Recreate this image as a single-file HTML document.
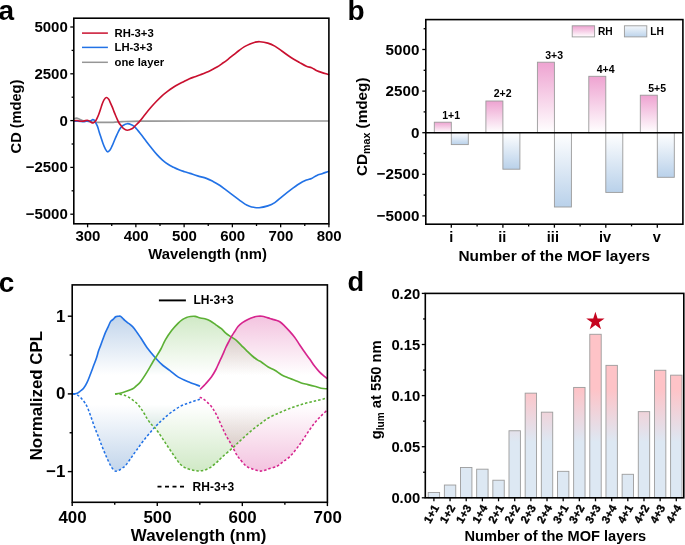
<!DOCTYPE html><html><head><meta charset="utf-8"><style>html,body{margin:0;padding:0;background:#fff;overflow:hidden;}svg{display:block;}text{font-family:"Liberation Sans",sans-serif;font-weight:bold;fill:#000;}</style></head><body>
<svg width="685" height="545" viewBox="0 0 685 545">
<defs><linearGradient id="gRH" x1="0" y1="0" x2="0" y2="1"><stop offset="0" stop-color="#eea3d1"/><stop offset="1" stop-color="#ffffff"/></linearGradient><linearGradient id="gLH" x1="0" y1="0" x2="0" y2="1"><stop offset="0" stop-color="#ffffff"/><stop offset="1" stop-color="#b9d1ea"/></linearGradient><linearGradient id="gLHleg" x1="0" y1="0" x2="0" y2="1"><stop offset="0" stop-color="#f4f8fc"/><stop offset="1" stop-color="#bcd3eb"/></linearGradient><linearGradient id="fBlue" gradientUnits="userSpaceOnUse" x1="0" y1="316" x2="0" y2="471.5"><stop offset="0" stop-color="#c2d5eb"/><stop offset="0.38" stop-color="#ffffff"/><stop offset="0.57" stop-color="#ffffff"/><stop offset="1" stop-color="#c2d5eb"/></linearGradient><linearGradient id="fGreen" gradientUnits="userSpaceOnUse" x1="0" y1="316" x2="0" y2="471.5"><stop offset="0" stop-color="#d0e9c6"/><stop offset="0.38" stop-color="#ffffff"/><stop offset="0.57" stop-color="#ffffff"/><stop offset="1" stop-color="#d0e9c6"/></linearGradient><linearGradient id="fMag" gradientUnits="userSpaceOnUse" x1="0" y1="316" x2="0" y2="471.5"><stop offset="0" stop-color="#f3c3df"/><stop offset="0.38" stop-color="#ffffff"/><stop offset="0.57" stop-color="#ffffff"/><stop offset="1" stop-color="#f3c3df"/></linearGradient><linearGradient id="gD" gradientUnits="userSpaceOnUse" x1="0" y1="389" x2="0" y2="442"><stop offset="0" stop-color="#fec3c7"/><stop offset="1" stop-color="#dde8f3"/></linearGradient></defs>
<text x="-1.5" y="19.5" font-size="28" text-anchor="start">a</text>
<line x1="87.6" y1="223.8" x2="87.6" y2="227.3" stroke="#000" stroke-width="1.3"/>
<line x1="111.73" y1="223.8" x2="111.73" y2="226" stroke="#000" stroke-width="1.3"/>
<line x1="135.86" y1="223.8" x2="135.86" y2="227.3" stroke="#000" stroke-width="1.3"/>
<line x1="159.99" y1="223.8" x2="159.99" y2="226" stroke="#000" stroke-width="1.3"/>
<line x1="184.12" y1="223.8" x2="184.12" y2="227.3" stroke="#000" stroke-width="1.3"/>
<line x1="208.25" y1="223.8" x2="208.25" y2="226" stroke="#000" stroke-width="1.3"/>
<line x1="232.38" y1="223.8" x2="232.38" y2="227.3" stroke="#000" stroke-width="1.3"/>
<line x1="256.51" y1="223.8" x2="256.51" y2="226" stroke="#000" stroke-width="1.3"/>
<line x1="280.64" y1="223.8" x2="280.64" y2="227.3" stroke="#000" stroke-width="1.3"/>
<line x1="304.77" y1="223.8" x2="304.77" y2="226" stroke="#000" stroke-width="1.3"/>
<line x1="328.9" y1="223.8" x2="328.9" y2="227.3" stroke="#000" stroke-width="1.3"/>
<text x="87.9" y="240.8" font-size="15" text-anchor="middle">300</text>
<text x="136.16" y="240.8" font-size="15" text-anchor="middle">400</text>
<text x="184.42" y="240.8" font-size="15" text-anchor="middle">500</text>
<text x="232.68" y="240.8" font-size="15" text-anchor="middle">600</text>
<text x="280.94" y="240.8" font-size="15" text-anchor="middle">700</text>
<text x="329.2" y="240.8" font-size="15" text-anchor="middle">800</text>
<line x1="70.3" y1="214.2" x2="73.8" y2="214.2" stroke="#000" stroke-width="1.3"/>
<line x1="71.6" y1="190.8" x2="73.8" y2="190.8" stroke="#000" stroke-width="1.3"/>
<line x1="70.3" y1="167.4" x2="73.8" y2="167.4" stroke="#000" stroke-width="1.3"/>
<line x1="71.6" y1="144" x2="73.8" y2="144" stroke="#000" stroke-width="1.3"/>
<line x1="70.3" y1="120.6" x2="73.8" y2="120.6" stroke="#000" stroke-width="1.3"/>
<line x1="71.6" y1="97.2" x2="73.8" y2="97.2" stroke="#000" stroke-width="1.3"/>
<line x1="70.3" y1="73.8" x2="73.8" y2="73.8" stroke="#000" stroke-width="1.3"/>
<line x1="71.6" y1="50.4" x2="73.8" y2="50.4" stroke="#000" stroke-width="1.3"/>
<line x1="70.3" y1="27" x2="73.8" y2="27" stroke="#000" stroke-width="1.3"/>
<text x="67.8" y="219.1" font-size="15" text-anchor="end">−5000</text>
<text x="67.8" y="172.3" font-size="15" text-anchor="end">−2500</text>
<text x="67.8" y="125.5" font-size="15" text-anchor="end">0</text>
<text x="67.8" y="78.7" font-size="15" text-anchor="end">2500</text>
<text x="67.8" y="31.9" font-size="15" text-anchor="end">5000</text>
<text x="207.6" y="258.9" font-size="14.8" text-anchor="middle">Wavelength (nm)</text>
<text x="0" y="0" font-size="14.6" text-anchor="middle" transform="translate(21.2,116.5) rotate(-90)">CD (mdeg)</text>
<path d="M73.9,118.8 C74.37,118.7 75.75,118.12 76.7,118.2 C77.65,118.28 78.43,118.87 79.6,119.3 C80.77,119.73 82.23,120.45 83.7,120.8 C85.17,121.15 86.95,121.2 88.4,121.4 C89.85,121.6 91.05,121.85 92.4,122 C93.75,122.15 95.03,122.23 96.5,122.3 C97.97,122.37 99.45,122.38 101.2,122.4 C102.95,122.42 105.2,122.42 107,122.4 C108.8,122.38 109.5,122.43 112,122.3 C114.5,122.17 117,121.8 122,121.6 C127,121.4 129,121.2 142,121.1 C155,121 168.8,121.02 200,121 C231.2,120.98 307.67,121 329.2,121" fill="none" stroke="#969696" stroke-width="1.7"/>
<path d="M73.9,121.1 C74.5,121.12 76.27,121.15 77.5,121.2 C78.73,121.25 80.27,121.32 81.3,121.4 C82.33,121.48 82.82,121.75 83.7,121.7 C84.58,121.65 85.63,121.15 86.6,121.1 C87.57,121.05 88.72,121.5 89.5,121.4 C90.28,121.3 90.77,120.8 91.3,120.5 C91.83,120.2 92.22,119.65 92.7,119.6 C93.18,119.55 93.75,119.77 94.2,120.2 C94.65,120.63 94.85,121.17 95.4,122.2 C95.95,123.23 96.87,124.77 97.5,126.4 C98.13,128.03 98.62,130.15 99.2,132 C99.78,133.85 100.35,135.53 101,137.5 C101.65,139.47 102.4,141.93 103.1,143.8 C103.8,145.67 104.45,147.37 105.2,148.7 C105.95,150.03 106.8,151.57 107.6,151.8 C108.4,152.03 109.25,151.08 110,150.1 C110.75,149.12 111.4,147.42 112.1,145.9 C112.8,144.38 113.5,142.63 114.2,141 C114.9,139.37 115.6,137.67 116.3,136.1 C117,134.53 117.7,132.93 118.4,131.6 C119.1,130.27 119.8,129.08 120.5,128.1 C121.2,127.12 121.48,126.43 122.6,125.7 C123.72,124.97 125.57,123.77 127.2,123.7 C128.83,123.63 131.1,124.73 132.4,125.3 C133.7,125.87 133.65,125.7 135,127.1 C136.35,128.5 138.67,131.4 140.5,133.7 C142.33,136 144.17,138.52 146,140.9 C147.83,143.28 149.67,145.72 151.5,148 C153.33,150.28 155.17,152.58 157,154.6 C158.83,156.62 160.67,158.48 162.5,160.1 C164.33,161.72 166.17,163.1 168,164.3 C169.83,165.5 171.67,166.38 173.5,167.3 C175.33,168.22 177.17,169.07 179,169.8 C180.83,170.53 182.67,171.1 184.5,171.7 C186.33,172.3 187.82,172.7 190,173.4 C192.18,174.1 194.87,175.07 197.6,175.9 C200.33,176.73 203.83,177.48 206.4,178.4 C208.97,179.32 210.8,180.27 213,181.4 C215.2,182.53 217.4,183.73 219.6,185.2 C221.8,186.67 224,188.55 226.2,190.2 C228.4,191.85 230.5,193.37 232.8,195.1 C235.1,196.83 237.97,199.1 240,200.6 C242.03,202.1 243.42,203.17 245,204.1 C246.58,205.03 248.03,205.67 249.5,206.2 C250.97,206.73 252.2,207.05 253.8,207.3 C255.4,207.55 256.77,207.93 259.1,207.7 C261.43,207.47 265.18,206.75 267.8,205.9 C270.42,205.05 272.47,204.12 274.8,202.6 C277.13,201.08 279.17,198.93 281.8,196.8 C284.43,194.67 287.68,191.98 290.6,189.8 C293.52,187.62 296.67,185.32 299.3,183.7 C301.93,182.08 304.35,180.98 306.4,180.1 C308.45,179.22 309.85,179.18 311.6,178.4 C313.35,177.62 315.15,176.18 316.9,175.4 C318.65,174.62 320.32,174.32 322.1,173.7 C323.88,173.08 326.42,172.12 327.6,171.7 C328.78,171.28 328.93,171.28 329.2,171.2" fill="none" stroke="#2272e6" stroke-width="1.65"/>
<path d="M73.9,120.8 C74.37,120.75 75.75,120.45 76.7,120.5 C77.65,120.55 78.43,121 79.6,121.1 C80.77,121.2 82.43,121.25 83.7,121.1 C84.97,120.95 86.23,120.2 87.2,120.2 C88.17,120.2 88.72,120.67 89.5,121.1 C90.28,121.53 91.22,122.53 91.9,122.8 C92.58,123.07 93.05,122.9 93.6,122.7 C94.15,122.5 94.65,122.28 95.2,121.6 C95.75,120.92 96.32,119.78 96.9,118.6 C97.48,117.42 98.1,116.05 98.7,114.5 C99.3,112.95 99.92,111.05 100.5,109.3 C101.08,107.55 101.62,105.57 102.2,104 C102.78,102.43 103.32,100.98 104,99.9 C104.68,98.82 105.52,97.6 106.3,97.5 C107.08,97.4 108.02,98.42 108.7,99.3 C109.38,100.18 109.82,101.53 110.4,102.8 C110.98,104.07 111.6,105.43 112.2,106.9 C112.8,108.37 113.42,110.13 114,111.6 C114.58,113.07 115.12,114.33 115.7,115.7 C116.28,117.07 116.92,118.53 117.5,119.8 C118.08,121.07 118.62,122.37 119.2,123.3 C119.78,124.23 120.32,124.57 121,125.4 C121.68,126.23 122.27,127.5 123.3,128.3 C124.33,129.1 125.68,130.17 127.2,130.2 C128.72,130.23 131.1,129.2 132.4,128.5 C133.7,127.8 133.83,127.15 135,126 C136.17,124.85 137.65,123.62 139.4,121.6 C141.15,119.58 143.57,116.28 145.5,113.9 C147.43,111.52 149.17,109.4 151,107.3 C152.83,105.2 154.67,103.22 156.5,101.3 C158.33,99.38 160.17,97.45 162,95.8 C163.83,94.15 165.67,92.78 167.5,91.4 C169.33,90.02 171.17,88.7 173,87.5 C174.83,86.3 176.67,85.2 178.5,84.2 C180.33,83.2 182.17,82.42 184,81.5 C185.83,80.58 187.67,79.5 189.5,78.7 C191.33,77.9 193.17,77.37 195,76.7 C196.83,76.03 198.67,75.4 200.5,74.7 C202.33,74 204.17,73.3 206,72.5 C207.83,71.7 209.67,70.82 211.5,69.9 C213.33,68.98 215.17,68.1 217,67 C218.83,65.9 220.67,64.58 222.5,63.3 C224.33,62.02 226.17,60.7 228,59.3 C229.83,57.9 231.67,56.37 233.5,54.9 C235.33,53.43 237.17,51.88 239,50.5 C240.83,49.12 242.67,47.7 244.5,46.6 C246.33,45.5 248.25,44.63 250,43.9 C251.75,43.17 253.35,42.57 255,42.2 C256.65,41.83 257.77,41.55 259.9,41.7 C262.03,41.85 265.32,42.37 267.8,43.1 C270.28,43.83 272.47,44.78 274.8,46.1 C277.13,47.42 279.17,49.15 281.8,51 C284.43,52.85 287.68,55.3 290.6,57.2 C293.52,59.1 296.67,60.88 299.3,62.4 C301.93,63.92 304.35,65.42 306.4,66.3 C308.45,67.18 309.85,66.95 311.6,67.7 C313.35,68.45 315.15,69.98 316.9,70.8 C318.65,71.62 320.32,72.02 322.1,72.6 C323.88,73.18 326.42,73.93 327.6,74.3 C328.78,74.67 328.93,74.72 329.2,74.8" fill="none" stroke="#c9102f" stroke-width="1.65"/>
<line x1="82" y1="33.1" x2="107.9" y2="33.1" stroke="#c9102f" stroke-width="1.5"/>
<text x="114.5" y="37" font-size="11.3" text-anchor="start">RH-3+3</text>
<line x1="82" y1="47.4" x2="107.9" y2="47.4" stroke="#2272e6" stroke-width="1.5"/>
<text x="114.5" y="51.3" font-size="11.3" text-anchor="start">LH-3+3</text>
<line x1="82" y1="62.3" x2="107.9" y2="62.3" stroke="#969696" stroke-width="1.5"/>
<text x="114.5" y="66.2" font-size="11.3" text-anchor="start">one layer</text>
<rect x="73.8" y="18.2" width="255.1" height="205.6" fill="none" stroke="#000" stroke-width="1.6"/>
<text x="347.5" y="19.8" font-size="28" text-anchor="start">b</text>
<rect x="434.3" y="122.2" width="17" height="10.5" fill="url(#gRH)" stroke="#9a9a9a" stroke-width="0.9"/>
<rect x="451.3" y="132.7" width="17" height="11.9" fill="url(#gLH)" stroke="#9a9a9a" stroke-width="0.9"/>
<text x="451.1" y="118.6" font-size="10.5" text-anchor="middle">1+1</text>
<rect x="485.9" y="101" width="17" height="31.7" fill="url(#gRH)" stroke="#9a9a9a" stroke-width="0.9"/>
<rect x="502.9" y="132.7" width="17" height="36.5" fill="url(#gLH)" stroke="#9a9a9a" stroke-width="0.9"/>
<text x="502.7" y="97.4" font-size="10.5" text-anchor="middle">2+2</text>
<rect x="537.4" y="62.2" width="17" height="70.5" fill="url(#gRH)" stroke="#9a9a9a" stroke-width="0.9"/>
<rect x="554.4" y="132.7" width="17" height="74.3" fill="url(#gLH)" stroke="#9a9a9a" stroke-width="0.9"/>
<text x="554.2" y="58.6" font-size="10.5" text-anchor="middle">3+3</text>
<rect x="588.8" y="76.3" width="17" height="56.4" fill="url(#gRH)" stroke="#9a9a9a" stroke-width="0.9"/>
<rect x="605.8" y="132.7" width="17" height="59.7" fill="url(#gLH)" stroke="#9a9a9a" stroke-width="0.9"/>
<text x="605.6" y="72.7" font-size="10.5" text-anchor="middle">4+4</text>
<rect x="640.3" y="95.2" width="17" height="37.5" fill="url(#gRH)" stroke="#9a9a9a" stroke-width="0.9"/>
<rect x="657.3" y="132.7" width="17" height="44.6" fill="url(#gLH)" stroke="#9a9a9a" stroke-width="0.9"/>
<text x="657.1" y="91.6" font-size="10.5" text-anchor="middle">5+5</text>
<line x1="425.8" y1="132.7" x2="682.9" y2="132.7" stroke="#000" stroke-width="1.6"/>
<line x1="422.3" y1="215.9" x2="425.8" y2="215.9" stroke="#000" stroke-width="1.3"/>
<line x1="423.6" y1="195.1" x2="425.8" y2="195.1" stroke="#000" stroke-width="1.3"/>
<line x1="422.3" y1="174.3" x2="425.8" y2="174.3" stroke="#000" stroke-width="1.3"/>
<line x1="423.6" y1="153.5" x2="425.8" y2="153.5" stroke="#000" stroke-width="1.3"/>
<line x1="422.3" y1="132.7" x2="425.8" y2="132.7" stroke="#000" stroke-width="1.3"/>
<line x1="423.6" y1="111.9" x2="425.8" y2="111.9" stroke="#000" stroke-width="1.3"/>
<line x1="422.3" y1="91.1" x2="425.8" y2="91.1" stroke="#000" stroke-width="1.3"/>
<line x1="423.6" y1="70.3" x2="425.8" y2="70.3" stroke="#000" stroke-width="1.3"/>
<line x1="422.3" y1="49.5" x2="425.8" y2="49.5" stroke="#000" stroke-width="1.3"/>
<line x1="423.6" y1="28.7" x2="425.8" y2="28.7" stroke="#000" stroke-width="1.3"/>
<text x="419.4" y="221" font-size="15.2" text-anchor="end">−5000</text>
<text x="419.4" y="179.4" font-size="15.2" text-anchor="end">−2500</text>
<text x="419.4" y="137.8" font-size="15.2" text-anchor="end">0</text>
<text x="419.4" y="96.2" font-size="15.2" text-anchor="end">2500</text>
<text x="419.4" y="54.6" font-size="15.2" text-anchor="end">5000</text>
<line x1="451.3" y1="224.2" x2="451.3" y2="227.7" stroke="#000" stroke-width="1.3"/>
<text x="451.3" y="241.6" font-size="14.5" text-anchor="middle">i</text>
<line x1="502.9" y1="224.2" x2="502.9" y2="227.7" stroke="#000" stroke-width="1.3"/>
<text x="502.3" y="241.6" font-size="14.5" text-anchor="middle">ii</text>
<line x1="554.4" y1="224.2" x2="554.4" y2="227.7" stroke="#000" stroke-width="1.3"/>
<text x="552.9" y="241.6" font-size="14.5" text-anchor="middle">iii</text>
<line x1="605.8" y1="224.2" x2="605.8" y2="227.7" stroke="#000" stroke-width="1.3"/>
<text x="605" y="241.6" font-size="14.5" text-anchor="middle">iv</text>
<line x1="657.3" y1="224.2" x2="657.3" y2="227.7" stroke="#000" stroke-width="1.3"/>
<text x="656.8" y="241.6" font-size="14.5" text-anchor="middle">v</text>
<line x1="477.1" y1="224.2" x2="477.1" y2="226.4" stroke="#000" stroke-width="1.3"/>
<line x1="528.65" y1="224.2" x2="528.65" y2="226.4" stroke="#000" stroke-width="1.3"/>
<line x1="580.1" y1="224.2" x2="580.1" y2="226.4" stroke="#000" stroke-width="1.3"/>
<line x1="631.55" y1="224.2" x2="631.55" y2="226.4" stroke="#000" stroke-width="1.3"/>
<text x="554.3" y="260.7" font-size="15.4" text-anchor="middle">Number of the MOF layers</text>
<text font-size="15.3" transform="translate(366.6,176.0) rotate(-90)">CD<tspan font-size="10.6" dy="3.6">max</tspan><tspan dy="-3.6"> (mdeg)</tspan></text>
<rect x="572.2" y="25.8" width="22.4" height="11.1" fill="url(#gRH)" stroke="#9a9a9a" stroke-width="0.9"/>
<text x="598" y="34.9" font-size="10.2" text-anchor="start">RH</text>
<rect x="624.4" y="25.8" width="22.4" height="11.1" fill="url(#gLHleg)" stroke="#9a9a9a" stroke-width="0.9"/>
<text x="650.2" y="34.9" font-size="10.2" text-anchor="start">LH</text>
<rect x="425.8" y="19.6" width="257.1" height="204.6" fill="none" stroke="#000" stroke-width="1.6"/>
<text x="-1.2" y="291.8" font-size="28" text-anchor="start">c</text>
<g style="isolation:isolate">
<path d="M72.8,393.9 C73.17,393.88 74.18,393.95 75,393.8 C75.82,393.65 76.87,393.42 77.7,393 C78.53,392.58 79.02,392.08 80,391.3 C80.98,390.52 82.42,389.78 83.6,388.3 C84.78,386.82 85.97,384.75 87.1,382.4 C88.23,380.05 89.37,376.85 90.4,374.2 C91.43,371.55 92.32,369.12 93.3,366.5 C94.28,363.88 95.43,361.07 96.3,358.5 C97.17,355.93 97.77,353.3 98.5,351.1 C99.23,348.9 99.85,347.62 100.7,345.3 C101.55,342.98 102.77,339.45 103.6,337.2 C104.43,334.95 104.98,333.43 105.7,331.8 C106.42,330.17 107.22,328.87 107.9,327.4 C108.58,325.93 109.25,324.1 109.8,323 C110.35,321.9 110.6,321.43 111.2,320.8 C111.8,320.17 112.67,319.88 113.4,319.2 C114.13,318.52 114.87,317.18 115.6,316.7 C116.33,316.22 117,316.38 117.8,316.3 C118.6,316.22 119.65,315.93 120.4,316.2 C121.15,316.47 121.57,317.22 122.3,317.9 C123.03,318.58 123.88,319.48 124.8,320.3 C125.72,321.12 126.93,322.13 127.8,322.8 C128.67,323.47 128.93,323.37 130,324.3 C131.07,325.23 132.45,326.2 134.2,328.4 C135.95,330.6 138.35,334.28 140.5,337.5 C142.65,340.72 144.48,344.17 147.1,347.7 C149.72,351.23 153.55,355.73 156.2,358.7 C158.85,361.67 160.7,363.52 163,365.5 C165.3,367.48 167.45,368.67 170,370.6 C172.55,372.53 175.13,375.2 178.3,377.1 C181.47,379 185.38,380.48 189,382 C192.62,383.52 198.17,385.5 200,386.2 L199.9,399.2 C198.25,399.75 193.25,401.32 190,402.5 C186.75,403.68 183.57,404.63 180.4,406.3 C177.23,407.97 173.92,410.32 171,412.5 C168.08,414.68 165.15,417.4 162.9,419.4 C160.65,421.4 159.32,422.67 157.5,424.5 C155.68,426.33 154.25,427.82 152,430.4 C149.75,432.98 146.57,436.72 144,440 C141.43,443.28 138.77,447.1 136.6,450.1 C134.43,453.1 132.82,455.45 131,458 C129.18,460.55 127.2,463.68 125.7,465.4 C124.2,467.12 123.1,467.5 122,468.3 C120.9,469.1 120.12,469.72 119.1,470.2 C118.08,470.68 116.83,471.27 115.9,471.2 C114.97,471.13 114.4,470.75 113.5,469.8 C112.6,468.85 111.67,467.63 110.5,465.5 C109.33,463.37 107.83,460 106.5,457 C105.17,454 103.83,450.83 102.5,447.5 C101.17,444.17 99.83,440.42 98.5,437 C97.17,433.58 95.83,430.58 94.5,427 C93.17,423.42 91.78,419 90.5,415.5 C89.22,412 87.92,408.37 86.8,406 C85.68,403.63 84.88,402.75 83.8,401.3 C82.72,399.85 81.47,398.4 80.3,397.3 C79.13,396.2 78.05,395.27 76.8,394.7 C75.55,394.13 73.47,394.03 72.8,393.9 Z" fill="url(#fBlue)" style="mix-blend-mode:multiply"/>
<path d="M115,393.9 C115.83,393.78 118.33,393.57 120,393.2 C121.67,392.83 122.87,392.43 125,391.7 C127.13,390.97 130.88,389.8 132.8,388.8 C134.72,387.8 135.2,386.88 136.5,385.7 C137.8,384.52 138.88,383.92 140.6,381.7 C142.32,379.48 144.72,375.77 146.8,372.4 C148.88,369.03 151.53,364.1 153.1,361.5 C154.67,358.9 154.9,358.88 156.2,356.8 C157.5,354.72 159.35,351.87 160.9,349 C162.45,346.13 163.68,342.72 165.5,339.6 C167.32,336.48 169.72,333.02 171.8,330.3 C173.88,327.58 176.18,325.12 178,323.3 C179.82,321.48 181.28,320.38 182.7,319.4 C184.12,318.42 185.2,317.88 186.5,317.4 C187.8,316.92 189.05,316.67 190.5,316.5 C191.95,316.33 193.72,316.18 195.2,316.4 C196.68,316.62 197.78,317.4 199.4,317.8 C201.02,318.2 203.07,318.27 204.9,318.8 C206.73,319.33 208.57,319.98 210.4,321 C212.23,322.02 214.07,323.62 215.9,324.9 C217.73,326.18 219.75,327.33 221.4,328.7 C223.05,330.07 224.32,331.82 225.8,333.1 C227.28,334.38 228.63,335.27 230.3,336.4 C231.97,337.53 233.97,338.42 235.8,339.9 C237.63,341.38 239.47,343.48 241.3,345.3 C243.13,347.12 244.97,349.02 246.8,350.8 C248.63,352.58 250.47,354.45 252.3,356 C254.13,357.55 256.25,359.07 257.8,360.1 C259.35,361.13 259.87,361.05 261.6,362.2 C263.33,363.35 266,365.65 268.2,367 C270.4,368.35 272.6,369.02 274.8,370.3 C277,371.58 279.2,373.47 281.4,374.7 C283.6,375.93 285.8,376.78 288,377.7 C290.2,378.62 292.38,379.32 294.6,380.2 C296.82,381.08 299.08,382.27 301.3,383 C303.52,383.73 305.7,384.05 307.9,384.6 C310.1,385.15 312.3,385.7 314.5,386.3 C316.7,386.9 319.02,387.78 321.1,388.2 C323.18,388.62 326.02,388.7 327,388.8 L327,398.1 C325.03,398.58 319.2,400.02 315.2,401 C311.2,401.98 306.9,402.88 303,404 C299.1,405.12 295.63,406.28 291.8,407.7 C287.97,409.12 283.88,410.78 280,412.5 C276.12,414.22 271.83,416.08 268.5,418 C265.17,419.92 262.93,421.82 260,424 C257.07,426.18 254.07,428.43 250.9,431.1 C247.73,433.77 244.02,437.23 241,440 C237.98,442.77 236,444.8 232.8,447.7 C229.6,450.6 224.6,454.85 221.8,457.4 C219,459.95 217.95,461.3 216,463 C214.05,464.7 211.93,466.43 210.1,467.6 C208.27,468.77 206.67,469.45 205,470 C203.33,470.55 201.6,470.8 200.1,470.9 C198.6,471 197.45,470.78 196,470.6 C194.55,470.42 193.15,470.23 191.4,469.8 C189.65,469.37 187.33,468.92 185.5,468 C183.67,467.08 181.98,465.88 180.4,464.3 C178.82,462.72 177.45,460.5 176,458.5 C174.55,456.5 173.15,454.42 171.7,452.3 C170.25,450.18 168.77,448 167.3,445.8 C165.83,443.6 164.37,441.32 162.9,439.1 C161.43,436.88 159.95,434.5 158.5,432.5 C157.05,430.5 155.45,428.52 154.2,427.1 C152.95,425.68 152.1,425.28 151,424 C149.9,422.72 148.68,421.07 147.6,419.4 C146.52,417.73 145.6,415.82 144.5,414 C143.4,412.18 142.25,410.25 141,408.5 C139.75,406.75 138.45,404.97 137,403.5 C135.55,402.03 133.8,400.82 132.3,399.7 C130.8,398.58 129.47,397.6 128,396.8 C126.53,396 125,395.33 123.5,394.9 C122,394.47 120.42,394.37 119,394.2 C117.58,394.03 115.67,393.95 115,393.9 Z" fill="url(#fGreen)" style="mix-blend-mode:multiply"/>
<path d="M200,389.5 C200.92,388.58 203.6,386.07 205.5,384 C207.4,381.93 209.67,379.52 211.4,377.1 C213.13,374.68 214.6,371.97 215.9,369.5 C217.2,367.03 218.1,364.68 219.2,362.3 C220.3,359.92 221.4,357.67 222.5,355.2 C223.6,352.73 224.68,349.9 225.8,347.5 C226.92,345.1 228.27,342.62 229.2,340.8 C230.13,338.98 230.48,338.15 231.4,336.6 C232.32,335.05 233.6,333.18 234.7,331.5 C235.8,329.82 236.72,327.97 238,326.5 C239.28,325.03 240.75,323.88 242.4,322.7 C244.05,321.52 246.07,320.32 247.9,319.4 C249.73,318.48 251.72,317.72 253.4,317.2 C255.08,316.68 256.57,316.45 258,316.3 C259.43,316.15 260.67,316.15 262,316.3 C263.33,316.45 264.68,316.83 266,317.2 C267.32,317.57 268.43,318.05 269.9,318.5 C271.37,318.95 273.15,319.37 274.8,319.9 C276.45,320.43 278.15,320.67 279.8,321.7 C281.45,322.73 283.05,324.48 284.7,326.1 C286.35,327.72 288.05,329.55 289.7,331.4 C291.35,333.25 292.95,334.98 294.6,337.2 C296.25,339.42 297.93,342.22 299.6,344.7 C301.27,347.18 302.95,349.77 304.6,352.1 C306.25,354.43 307.85,356.37 309.5,358.7 C311.15,361.03 312.85,363.9 314.5,366.1 C316.15,368.3 317.75,370.18 319.4,371.9 C321.05,373.62 323.13,375.3 324.4,376.4 C325.67,377.5 326.57,378.15 327,378.5 L327,410.3 C325.92,411.33 322.63,414.3 320.5,416.5 C318.37,418.7 316.28,420.9 314.2,423.5 C312.12,426.1 310.07,429.1 308,432.1 C305.93,435.1 303.88,438.5 301.8,441.5 C299.72,444.5 297.58,447.5 295.5,450.1 C293.42,452.7 291.38,455.15 289.3,457.1 C287.22,459.05 285.08,460.25 283,461.8 C280.92,463.35 279.13,465.23 276.8,466.4 C274.47,467.57 270.97,468.17 269,468.8 C267.03,469.43 266.3,469.82 265,470.2 C263.7,470.58 262.45,471.03 261.2,471.1 C259.95,471.17 258.8,470.9 257.5,470.6 C256.2,470.3 254.73,469.77 253.4,469.3 C252.07,468.83 250.8,468.4 249.5,467.8 C248.2,467.2 247.25,467.2 245.6,465.7 C243.95,464.2 241.12,460.67 239.6,458.8 C238.08,456.93 237.58,456.3 236.5,454.5 C235.42,452.7 234.22,450.12 233.1,448 C231.98,445.88 230.88,443.73 229.8,441.8 C228.72,439.87 227.67,438.37 226.6,436.4 C225.53,434.43 224.47,432.25 223.4,430 C222.33,427.75 221.27,425.27 220.2,422.9 C219.13,420.53 218.07,417.93 217,415.8 C215.93,413.67 214.87,411.8 213.8,410.1 C212.73,408.4 211.78,407 210.6,405.6 C209.42,404.2 207.98,402.87 206.7,401.7 C205.42,400.53 204.08,399.32 202.9,398.6 C201.72,397.88 200.15,397.6 199.6,397.4 Z" fill="url(#fMag)" style="mix-blend-mode:multiply"/>
</g>
<path d="M72.8,393.9 C73.17,393.88 74.18,393.95 75,393.8 C75.82,393.65 76.87,393.42 77.7,393 C78.53,392.58 79.02,392.08 80,391.3 C80.98,390.52 82.42,389.78 83.6,388.3 C84.78,386.82 85.97,384.75 87.1,382.4 C88.23,380.05 89.37,376.85 90.4,374.2 C91.43,371.55 92.32,369.12 93.3,366.5 C94.28,363.88 95.43,361.07 96.3,358.5 C97.17,355.93 97.77,353.3 98.5,351.1 C99.23,348.9 99.85,347.62 100.7,345.3 C101.55,342.98 102.77,339.45 103.6,337.2 C104.43,334.95 104.98,333.43 105.7,331.8 C106.42,330.17 107.22,328.87 107.9,327.4 C108.58,325.93 109.25,324.1 109.8,323 C110.35,321.9 110.6,321.43 111.2,320.8 C111.8,320.17 112.67,319.88 113.4,319.2 C114.13,318.52 114.87,317.18 115.6,316.7 C116.33,316.22 117,316.38 117.8,316.3 C118.6,316.22 119.65,315.93 120.4,316.2 C121.15,316.47 121.57,317.22 122.3,317.9 C123.03,318.58 123.88,319.48 124.8,320.3 C125.72,321.12 126.93,322.13 127.8,322.8 C128.67,323.47 128.93,323.37 130,324.3 C131.07,325.23 132.45,326.2 134.2,328.4 C135.95,330.6 138.35,334.28 140.5,337.5 C142.65,340.72 144.48,344.17 147.1,347.7 C149.72,351.23 153.55,355.73 156.2,358.7 C158.85,361.67 160.7,363.52 163,365.5 C165.3,367.48 167.45,368.67 170,370.6 C172.55,372.53 175.13,375.2 178.3,377.1 C181.47,379 185.38,380.48 189,382 C192.62,383.52 198.17,385.5 200,386.2" fill="none" stroke="#2272e6" stroke-width="1.65"/>
<path d="M115,393.9 C115.83,393.78 118.33,393.57 120,393.2 C121.67,392.83 122.87,392.43 125,391.7 C127.13,390.97 130.88,389.8 132.8,388.8 C134.72,387.8 135.2,386.88 136.5,385.7 C137.8,384.52 138.88,383.92 140.6,381.7 C142.32,379.48 144.72,375.77 146.8,372.4 C148.88,369.03 151.53,364.1 153.1,361.5 C154.67,358.9 154.9,358.88 156.2,356.8 C157.5,354.72 159.35,351.87 160.9,349 C162.45,346.13 163.68,342.72 165.5,339.6 C167.32,336.48 169.72,333.02 171.8,330.3 C173.88,327.58 176.18,325.12 178,323.3 C179.82,321.48 181.28,320.38 182.7,319.4 C184.12,318.42 185.2,317.88 186.5,317.4 C187.8,316.92 189.05,316.67 190.5,316.5 C191.95,316.33 193.72,316.18 195.2,316.4 C196.68,316.62 197.78,317.4 199.4,317.8 C201.02,318.2 203.07,318.27 204.9,318.8 C206.73,319.33 208.57,319.98 210.4,321 C212.23,322.02 214.07,323.62 215.9,324.9 C217.73,326.18 219.75,327.33 221.4,328.7 C223.05,330.07 224.32,331.82 225.8,333.1 C227.28,334.38 228.63,335.27 230.3,336.4 C231.97,337.53 233.97,338.42 235.8,339.9 C237.63,341.38 239.47,343.48 241.3,345.3 C243.13,347.12 244.97,349.02 246.8,350.8 C248.63,352.58 250.47,354.45 252.3,356 C254.13,357.55 256.25,359.07 257.8,360.1 C259.35,361.13 259.87,361.05 261.6,362.2 C263.33,363.35 266,365.65 268.2,367 C270.4,368.35 272.6,369.02 274.8,370.3 C277,371.58 279.2,373.47 281.4,374.7 C283.6,375.93 285.8,376.78 288,377.7 C290.2,378.62 292.38,379.32 294.6,380.2 C296.82,381.08 299.08,382.27 301.3,383 C303.52,383.73 305.7,384.05 307.9,384.6 C310.1,385.15 312.3,385.7 314.5,386.3 C316.7,386.9 319.02,387.78 321.1,388.2 C323.18,388.62 326.02,388.7 327,388.8" fill="none" stroke="#5cb035" stroke-width="1.65"/>
<path d="M200,389.5 C200.92,388.58 203.6,386.07 205.5,384 C207.4,381.93 209.67,379.52 211.4,377.1 C213.13,374.68 214.6,371.97 215.9,369.5 C217.2,367.03 218.1,364.68 219.2,362.3 C220.3,359.92 221.4,357.67 222.5,355.2 C223.6,352.73 224.68,349.9 225.8,347.5 C226.92,345.1 228.27,342.62 229.2,340.8 C230.13,338.98 230.48,338.15 231.4,336.6 C232.32,335.05 233.6,333.18 234.7,331.5 C235.8,329.82 236.72,327.97 238,326.5 C239.28,325.03 240.75,323.88 242.4,322.7 C244.05,321.52 246.07,320.32 247.9,319.4 C249.73,318.48 251.72,317.72 253.4,317.2 C255.08,316.68 256.57,316.45 258,316.3 C259.43,316.15 260.67,316.15 262,316.3 C263.33,316.45 264.68,316.83 266,317.2 C267.32,317.57 268.43,318.05 269.9,318.5 C271.37,318.95 273.15,319.37 274.8,319.9 C276.45,320.43 278.15,320.67 279.8,321.7 C281.45,322.73 283.05,324.48 284.7,326.1 C286.35,327.72 288.05,329.55 289.7,331.4 C291.35,333.25 292.95,334.98 294.6,337.2 C296.25,339.42 297.93,342.22 299.6,344.7 C301.27,347.18 302.95,349.77 304.6,352.1 C306.25,354.43 307.85,356.37 309.5,358.7 C311.15,361.03 312.85,363.9 314.5,366.1 C316.15,368.3 317.75,370.18 319.4,371.9 C321.05,373.62 323.13,375.3 324.4,376.4 C325.67,377.5 326.57,378.15 327,378.5" fill="none" stroke="#d6258e" stroke-width="1.65"/>
<path d="M72.8,393.9 C73.47,394.03 75.55,394.13 76.8,394.7 C78.05,395.27 79.13,396.2 80.3,397.3 C81.47,398.4 82.72,399.85 83.8,401.3 C84.88,402.75 85.68,403.63 86.8,406 C87.92,408.37 89.22,412 90.5,415.5 C91.78,419 93.17,423.42 94.5,427 C95.83,430.58 97.17,433.58 98.5,437 C99.83,440.42 101.17,444.17 102.5,447.5 C103.83,450.83 105.17,454 106.5,457 C107.83,460 109.33,463.37 110.5,465.5 C111.67,467.63 112.6,468.85 113.5,469.8 C114.4,470.75 114.97,471.13 115.9,471.2 C116.83,471.27 118.08,470.68 119.1,470.2 C120.12,469.72 120.9,469.1 122,468.3 C123.1,467.5 124.2,467.12 125.7,465.4 C127.2,463.68 129.18,460.55 131,458 C132.82,455.45 134.43,453.1 136.6,450.1 C138.77,447.1 141.43,443.28 144,440 C146.57,436.72 149.75,432.98 152,430.4 C154.25,427.82 155.68,426.33 157.5,424.5 C159.32,422.67 160.65,421.4 162.9,419.4 C165.15,417.4 168.08,414.68 171,412.5 C173.92,410.32 177.23,407.97 180.4,406.3 C183.57,404.63 186.75,403.68 190,402.5 C193.25,401.32 198.25,399.75 199.9,399.2" fill="none" stroke="#2272e6" stroke-width="1.55" stroke-dasharray="2.5,2.0"/>
<path d="M115,393.9 C115.67,393.95 117.58,394.03 119,394.2 C120.42,394.37 122,394.47 123.5,394.9 C125,395.33 126.53,396 128,396.8 C129.47,397.6 130.8,398.58 132.3,399.7 C133.8,400.82 135.55,402.03 137,403.5 C138.45,404.97 139.75,406.75 141,408.5 C142.25,410.25 143.4,412.18 144.5,414 C145.6,415.82 146.52,417.73 147.6,419.4 C148.68,421.07 149.9,422.72 151,424 C152.1,425.28 152.95,425.68 154.2,427.1 C155.45,428.52 157.05,430.5 158.5,432.5 C159.95,434.5 161.43,436.88 162.9,439.1 C164.37,441.32 165.83,443.6 167.3,445.8 C168.77,448 170.25,450.18 171.7,452.3 C173.15,454.42 174.55,456.5 176,458.5 C177.45,460.5 178.82,462.72 180.4,464.3 C181.98,465.88 183.67,467.08 185.5,468 C187.33,468.92 189.65,469.37 191.4,469.8 C193.15,470.23 194.55,470.42 196,470.6 C197.45,470.78 198.6,471 200.1,470.9 C201.6,470.8 203.33,470.55 205,470 C206.67,469.45 208.27,468.77 210.1,467.6 C211.93,466.43 214.05,464.7 216,463 C217.95,461.3 219,459.95 221.8,457.4 C224.6,454.85 229.6,450.6 232.8,447.7 C236,444.8 237.98,442.77 241,440 C244.02,437.23 247.73,433.77 250.9,431.1 C254.07,428.43 257.07,426.18 260,424 C262.93,421.82 265.17,419.92 268.5,418 C271.83,416.08 276.12,414.22 280,412.5 C283.88,410.78 287.97,409.12 291.8,407.7 C295.63,406.28 299.1,405.12 303,404 C306.9,402.88 311.2,401.98 315.2,401 C319.2,400.02 325.03,398.58 327,398.1" fill="none" stroke="#5cb035" stroke-width="1.55" stroke-dasharray="2.5,2.0"/>
<path d="M199.6,397.4 C200.15,397.6 201.72,397.88 202.9,398.6 C204.08,399.32 205.42,400.53 206.7,401.7 C207.98,402.87 209.42,404.2 210.6,405.6 C211.78,407 212.73,408.4 213.8,410.1 C214.87,411.8 215.93,413.67 217,415.8 C218.07,417.93 219.13,420.53 220.2,422.9 C221.27,425.27 222.33,427.75 223.4,430 C224.47,432.25 225.53,434.43 226.6,436.4 C227.67,438.37 228.72,439.87 229.8,441.8 C230.88,443.73 231.98,445.88 233.1,448 C234.22,450.12 235.42,452.7 236.5,454.5 C237.58,456.3 238.08,456.93 239.6,458.8 C241.12,460.67 243.95,464.2 245.6,465.7 C247.25,467.2 248.2,467.2 249.5,467.8 C250.8,468.4 252.07,468.83 253.4,469.3 C254.73,469.77 256.2,470.3 257.5,470.6 C258.8,470.9 259.95,471.17 261.2,471.1 C262.45,471.03 263.7,470.58 265,470.2 C266.3,469.82 267.03,469.43 269,468.8 C270.97,468.17 274.47,467.57 276.8,466.4 C279.13,465.23 280.92,463.35 283,461.8 C285.08,460.25 287.22,459.05 289.3,457.1 C291.38,455.15 293.42,452.7 295.5,450.1 C297.58,447.5 299.72,444.5 301.8,441.5 C303.88,438.5 305.93,435.1 308,432.1 C310.07,429.1 312.12,426.1 314.2,423.5 C316.28,420.9 318.37,418.7 320.5,416.5 C322.63,414.3 325.92,411.33 327,410.3" fill="none" stroke="#d6258e" stroke-width="1.55" stroke-dasharray="2.5,2.0"/>
<line x1="72.2" y1="502.3" x2="72.2" y2="506.1" stroke="#000" stroke-width="1.4"/>
<line x1="114.73" y1="502.3" x2="114.73" y2="504.7" stroke="#000" stroke-width="1.4"/>
<line x1="157.27" y1="502.3" x2="157.27" y2="506.1" stroke="#000" stroke-width="1.4"/>
<line x1="199.8" y1="502.3" x2="199.8" y2="504.7" stroke="#000" stroke-width="1.4"/>
<line x1="242.33" y1="502.3" x2="242.33" y2="506.1" stroke="#000" stroke-width="1.4"/>
<line x1="284.87" y1="502.3" x2="284.87" y2="504.7" stroke="#000" stroke-width="1.4"/>
<line x1="327.4" y1="502.3" x2="327.4" y2="506.1" stroke="#000" stroke-width="1.4"/>
<text x="72.5" y="523.2" font-size="16.9" text-anchor="middle">400</text>
<text x="157.57" y="523.2" font-size="16.9" text-anchor="middle">500</text>
<text x="242.63" y="523.2" font-size="16.9" text-anchor="middle">600</text>
<text x="327.7" y="523.2" font-size="16.9" text-anchor="middle">700</text>
<line x1="67.8" y1="471.6" x2="72.2" y2="471.6" stroke="#000" stroke-width="1.4"/>
<line x1="69.6" y1="432.75" x2="72.2" y2="432.75" stroke="#000" stroke-width="1.4"/>
<line x1="67.8" y1="393.9" x2="72.2" y2="393.9" stroke="#000" stroke-width="1.4"/>
<line x1="69.6" y1="355.05" x2="72.2" y2="355.05" stroke="#000" stroke-width="1.4"/>
<line x1="67.8" y1="316.2" x2="72.2" y2="316.2" stroke="#000" stroke-width="1.4"/>
<text x="65.3" y="477.1" font-size="16.9" text-anchor="end">−1</text>
<text x="65.3" y="399.4" font-size="16.9" text-anchor="end">0</text>
<text x="65.3" y="321.7" font-size="16.9" text-anchor="end">1</text>
<text x="198.6" y="540.9" font-size="16.9" text-anchor="middle">Wavelength (nm)</text>
<text x="0" y="0" font-size="16.9" text-anchor="middle" transform="translate(41.6,395.6) rotate(-90)">Normalized CPL</text>
<line x1="158.9" y1="300.4" x2="185.9" y2="300.4" stroke="#000" stroke-width="1.9"/>
<text x="193.4" y="304.4" font-size="12" text-anchor="start">LH-3+3</text>
<line x1="157.5" y1="486.6" x2="185.5" y2="486.6" stroke="#000" stroke-width="1.9" stroke-dasharray="4,3.5"/>
<text x="192.6" y="491" font-size="12" text-anchor="start">RH-3+3</text>
<rect x="72.2" y="284.9" width="255.2" height="217.4" fill="none" stroke="#000" stroke-width="1.6"/>
<text x="347.6" y="291.3" font-size="27.3" text-anchor="start">d</text>
<rect x="428.2" y="492.49" width="11.4" height="5.31" fill="url(#gD)" stroke="#9c9c9c" stroke-width="0.9"/>
<line x1="433.9" y1="497.8" x2="433.9" y2="501.3" stroke="#000" stroke-width="1.3"/>
<text font-size="11.3" stroke="#000" stroke-width="0.35" text-anchor="end" transform="translate(439.5,507.6) rotate(-60)">1+1</text>
<rect x="444.36" y="485.03" width="11.4" height="12.77" fill="url(#gD)" stroke="#9c9c9c" stroke-width="0.9"/>
<line x1="450.06" y1="497.8" x2="450.06" y2="501.3" stroke="#000" stroke-width="1.3"/>
<text font-size="11.3" stroke="#000" stroke-width="0.35" text-anchor="end" transform="translate(455.66,507.6) rotate(-60)">1+2</text>
<rect x="460.52" y="467.45" width="11.4" height="30.35" fill="url(#gD)" stroke="#9c9c9c" stroke-width="0.9"/>
<line x1="466.22" y1="497.8" x2="466.22" y2="501.3" stroke="#000" stroke-width="1.3"/>
<text font-size="11.3" stroke="#000" stroke-width="0.35" text-anchor="end" transform="translate(471.82,507.6) rotate(-60)">1+3</text>
<rect x="476.68" y="469.18" width="11.4" height="28.62" fill="url(#gD)" stroke="#9c9c9c" stroke-width="0.9"/>
<line x1="482.38" y1="497.8" x2="482.38" y2="501.3" stroke="#000" stroke-width="1.3"/>
<text font-size="11.3" stroke="#000" stroke-width="0.35" text-anchor="end" transform="translate(487.98,507.6) rotate(-60)">1+4</text>
<rect x="492.84" y="480.22" width="11.4" height="17.58" fill="url(#gD)" stroke="#9c9c9c" stroke-width="0.9"/>
<line x1="498.54" y1="497.8" x2="498.54" y2="501.3" stroke="#000" stroke-width="1.3"/>
<text font-size="11.3" stroke="#000" stroke-width="0.35" text-anchor="end" transform="translate(504.14,507.6) rotate(-60)">2+1</text>
<rect x="509" y="430.76" width="11.4" height="67.04" fill="url(#gD)" stroke="#9c9c9c" stroke-width="0.9"/>
<line x1="514.7" y1="497.8" x2="514.7" y2="501.3" stroke="#000" stroke-width="1.3"/>
<text font-size="11.3" stroke="#000" stroke-width="0.35" text-anchor="end" transform="translate(520.3,507.6) rotate(-60)">2+2</text>
<rect x="525.16" y="393.15" width="11.4" height="104.65" fill="url(#gD)" stroke="#9c9c9c" stroke-width="0.9"/>
<line x1="530.86" y1="497.8" x2="530.86" y2="501.3" stroke="#000" stroke-width="1.3"/>
<text font-size="11.3" stroke="#000" stroke-width="0.35" text-anchor="end" transform="translate(536.46,507.6) rotate(-60)">2+3</text>
<rect x="541.32" y="412.16" width="11.4" height="85.64" fill="url(#gD)" stroke="#9c9c9c" stroke-width="0.9"/>
<line x1="547.02" y1="497.8" x2="547.02" y2="501.3" stroke="#000" stroke-width="1.3"/>
<text font-size="11.3" stroke="#000" stroke-width="0.35" text-anchor="end" transform="translate(552.62,507.6) rotate(-60)">2+4</text>
<rect x="557.48" y="471.33" width="11.4" height="26.47" fill="url(#gD)" stroke="#9c9c9c" stroke-width="0.9"/>
<line x1="563.18" y1="497.8" x2="563.18" y2="501.3" stroke="#000" stroke-width="1.3"/>
<text font-size="11.3" stroke="#000" stroke-width="0.35" text-anchor="end" transform="translate(568.78,507.6) rotate(-60)">3+1</text>
<rect x="573.64" y="387.42" width="11.4" height="110.38" fill="url(#gD)" stroke="#9c9c9c" stroke-width="0.9"/>
<line x1="579.34" y1="497.8" x2="579.34" y2="501.3" stroke="#000" stroke-width="1.3"/>
<text font-size="11.3" stroke="#000" stroke-width="0.35" text-anchor="end" transform="translate(584.94,507.6) rotate(-60)">3+2</text>
<rect x="589.8" y="334.28" width="11.4" height="163.52" fill="url(#gD)" stroke="#9c9c9c" stroke-width="0.9"/>
<line x1="595.5" y1="497.8" x2="595.5" y2="501.3" stroke="#000" stroke-width="1.3"/>
<text font-size="11.3" stroke="#000" stroke-width="0.35" text-anchor="end" transform="translate(601.1,507.6) rotate(-60)">3+3</text>
<rect x="605.96" y="365.35" width="11.4" height="132.45" fill="url(#gD)" stroke="#9c9c9c" stroke-width="0.9"/>
<line x1="611.66" y1="497.8" x2="611.66" y2="501.3" stroke="#000" stroke-width="1.3"/>
<text font-size="11.3" stroke="#000" stroke-width="0.35" text-anchor="end" transform="translate(617.26,507.6) rotate(-60)">3+4</text>
<rect x="622.12" y="474.29" width="11.4" height="23.51" fill="url(#gD)" stroke="#9c9c9c" stroke-width="0.9"/>
<line x1="627.82" y1="497.8" x2="627.82" y2="501.3" stroke="#000" stroke-width="1.3"/>
<text font-size="11.3" stroke="#000" stroke-width="0.35" text-anchor="end" transform="translate(633.42,507.6) rotate(-60)">4+1</text>
<rect x="638.28" y="411.65" width="11.4" height="86.15" fill="url(#gD)" stroke="#9c9c9c" stroke-width="0.9"/>
<line x1="643.98" y1="497.8" x2="643.98" y2="501.3" stroke="#000" stroke-width="1.3"/>
<text font-size="11.3" stroke="#000" stroke-width="0.35" text-anchor="end" transform="translate(649.58,507.6) rotate(-60)">4+2</text>
<rect x="654.44" y="370.25" width="11.4" height="127.55" fill="url(#gD)" stroke="#9c9c9c" stroke-width="0.9"/>
<line x1="660.14" y1="497.8" x2="660.14" y2="501.3" stroke="#000" stroke-width="1.3"/>
<text font-size="11.3" stroke="#000" stroke-width="0.35" text-anchor="end" transform="translate(665.74,507.6) rotate(-60)">4+3</text>
<rect x="670.6" y="375.16" width="11.4" height="122.64" fill="url(#gD)" stroke="#9c9c9c" stroke-width="0.9"/>
<line x1="676.3" y1="497.8" x2="676.3" y2="501.3" stroke="#000" stroke-width="1.3"/>
<text font-size="11.3" stroke="#000" stroke-width="0.35" text-anchor="end" transform="translate(681.9,507.6) rotate(-60)">4+4</text>
<line x1="421.8" y1="497.8" x2="425.3" y2="497.8" stroke="#000" stroke-width="1.3"/>
<line x1="423.1" y1="472.25" x2="425.3" y2="472.25" stroke="#000" stroke-width="1.3"/>
<line x1="421.8" y1="446.7" x2="425.3" y2="446.7" stroke="#000" stroke-width="1.3"/>
<line x1="423.1" y1="421.15" x2="425.3" y2="421.15" stroke="#000" stroke-width="1.3"/>
<line x1="421.8" y1="395.6" x2="425.3" y2="395.6" stroke="#000" stroke-width="1.3"/>
<line x1="423.1" y1="370.05" x2="425.3" y2="370.05" stroke="#000" stroke-width="1.3"/>
<line x1="421.8" y1="344.5" x2="425.3" y2="344.5" stroke="#000" stroke-width="1.3"/>
<line x1="423.1" y1="318.95" x2="425.3" y2="318.95" stroke="#000" stroke-width="1.3"/>
<line x1="421.8" y1="293.4" x2="425.3" y2="293.4" stroke="#000" stroke-width="1.3"/>
<text x="420.2" y="502.9" font-size="14.8" text-anchor="end">0.00</text>
<text x="420.2" y="451.8" font-size="14.8" text-anchor="end">0.05</text>
<text x="420.2" y="400.7" font-size="14.8" text-anchor="end">0.10</text>
<text x="420.2" y="349.6" font-size="14.8" text-anchor="end">0.15</text>
<text x="420.2" y="298.5" font-size="14.8" text-anchor="end">0.20</text>
<text x="555.4" y="540.7" font-size="14.6" text-anchor="middle">Number of the MOF layers</text>
<text font-size="14.7" transform="translate(380.9,439.2) rotate(-90)">g<tspan font-size="10.1" dy="3.3">lum</tspan><tspan dy="-3.3"> at 550 nm</tspan></text>
<path d="M595.4,311.75 L597.57,318.41 L604.58,318.42 L598.92,322.54 L601.07,329.21 L595.4,325.1 L589.73,329.21 L591.88,322.54 L586.22,318.42 L593.23,318.41 Z" fill="#c5041f"/>
<rect x="425.3" y="293.4" width="258.5" height="204.4" fill="none" stroke="#000" stroke-width="1.6"/>
</svg></body></html>
